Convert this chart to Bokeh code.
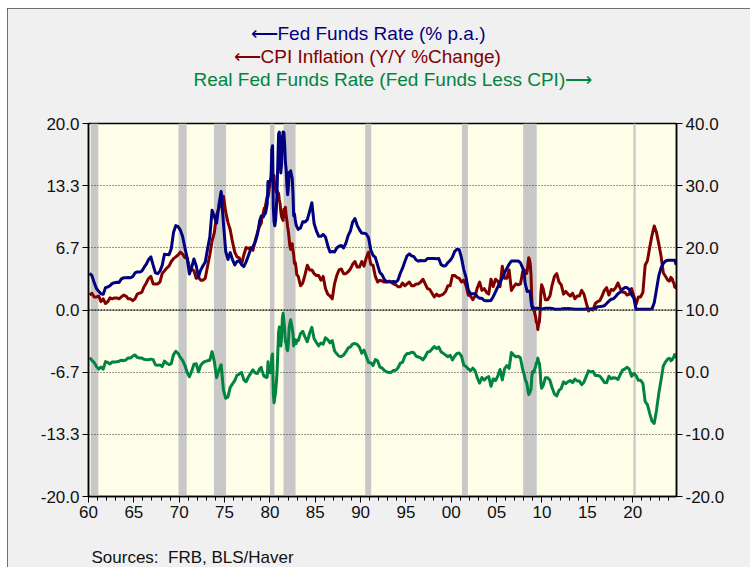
from bokeh.plotting import figure
from bokeh.models import (Range1d, LinearAxis, FixedTicker, PrintfTickFormatter,
                          CustomJSTickFormatter, BoxAnnotation, Span, Title)
from bokeh.embed import file_html
from bokeh.resources import INLINE

# ---------------- data ----------------
# Fed funds rate, % p.a.
ff_q_1960_1978 = [3.93, 3.70, 2.94, 2.30, 2.00, 1.73, 1.68, 2.40, 2.46, 2.61, 2.85, 2.92,
                  2.97, 2.96, 3.33, 3.45, 3.46, 3.49, 3.46, 3.58, 3.97, 4.08, 4.07, 4.17,
                  4.56, 4.91, 5.41, 5.70, 4.82, 3.99, 3.89, 4.17, 4.79, 5.98, 5.94, 5.92,
                  6.57, 8.33, 9.05, 8.94, 8.57, 7.88, 6.70, 5.57, 3.86, 4.56, 5.47, 4.75,
                  3.54, 4.30, 4.74, 5.14, 6.54, 7.82, 10.70, 10.00, 9.32, 11.25, 12.70, 9.35,
                  6.30, 5.42, 6.16, 5.41, 4.83, 5.20, 5.28, 4.87, 4.66, 5.16, 5.82, 6.51,
                  6.76, 7.28, 8.10, 9.58]
ff_m_1979_1982 = [10.07, 10.06, 10.09, 10.01, 10.24, 10.29, 10.47, 10.94, 11.43, 13.77, 13.18, 13.78,
                  13.82, 14.13, 17.19, 17.61, 10.98, 9.47, 9.03, 9.61, 10.87, 12.81, 15.85, 18.90,
                  19.08, 15.93, 14.70, 15.72, 18.52, 19.10, 19.04, 17.82, 15.87, 15.08, 13.31, 12.37,
                  13.22, 14.78, 14.68, 14.94, 14.45, 14.15, 12.59, 10.12, 10.31, 9.71, 9.20, 8.95]
ff_q_1983_2007 = [8.65, 8.80, 9.46, 9.43, 9.69, 10.56, 11.50, 9.27, 8.48, 7.92, 7.90, 8.10,
                  7.83, 6.92, 6.21, 6.27, 6.22, 6.65, 6.84, 6.92, 6.66, 7.16, 7.98, 8.47,
                  9.44, 9.80, 9.08, 8.61, 8.25, 8.24, 8.16, 7.74, 6.43, 5.86, 5.64, 4.82,
                  4.02, 3.77, 3.26, 3.04, 3.04, 3.00, 3.06, 2.99, 3.21, 3.94, 4.49, 5.17,
                  5.81, 6.02, 5.80, 5.72, 5.36, 5.24, 5.31, 5.28, 5.28, 5.52, 5.53, 5.51,
                  5.52, 5.50, 5.53, 4.86, 4.73, 4.75, 5.09, 5.31, 5.68, 6.27, 6.52, 6.47,
                  5.59, 4.33, 3.50, 2.13, 1.73, 1.75, 1.74, 1.44, 1.25, 1.25, 1.02, 1.00,
                  1.00, 1.03, 1.43, 1.95, 2.47, 2.94, 3.46, 3.98, 4.46, 4.91, 5.25, 5.25,
                  5.26, 5.25, 5.07, 4.50]
ff_m_2008_2009 = [3.94, 2.98, 2.61, 2.28, 1.98, 2.00, 2.01, 2.00, 1.81, 0.97, 0.39, 0.16,
                  0.15, 0.22, 0.18, 0.15, 0.18, 0.21, 0.16, 0.16, 0.15, 0.12, 0.12, 0.12]
ff_q_2010_2023 = [0.13, 0.19, 0.19, 0.19, 0.16, 0.09, 0.08, 0.07, 0.10, 0.15, 0.14, 0.16,
                  0.14, 0.12, 0.08, 0.09, 0.07, 0.09, 0.09, 0.10, 0.11, 0.12, 0.13, 0.16,
                  0.36, 0.37, 0.40, 0.45, 0.70, 0.95, 1.15, 1.20, 1.45, 1.74, 1.92, 2.22,
                  2.40, 2.40, 2.19, 1.64, 1.26, 0.06, 0.09, 0.09, 0.08, 0.07, 0.09, 0.08,
                  0.12, 0.77, 2.19, 3.65, 4.52, 4.99, 5.26, 5.33]
ff_m_2024 = [5.33, 5.33, 5.33, 5.33, 5.33, 5.33, 5.33, 5.33, 5.13, 4.83]

# CPI inflation, Y/Y % change
cpi_q_1960_1978 = [1.6, 1.8, 1.4, 1.4, 1.5, 0.9, 1.2, 0.7, 0.9, 1.3, 1.2, 1.3,
                   1.3, 1.2, 1.4, 1.6, 1.5, 1.2, 1.2, 1.0, 1.2, 1.7, 1.8, 1.9,
                   2.5, 2.9, 3.4, 3.6, 2.8, 2.8, 2.8, 3.0, 3.9, 4.2, 4.5, 4.7,
                   5.2, 5.5, 5.7, 5.9, 6.2, 6.0, 5.6, 5.6, 4.6, 4.4, 4.2, 3.4,
                   3.5, 3.2, 3.2, 3.4, 4.7, 5.9, 7.4, 8.3, 10.2, 10.9, 11.5, 12.2,
                   10.5, 9.4, 8.6, 7.3, 6.2, 5.7, 5.6, 4.9, 5.9, 6.7, 6.6, 6.7,
                   6.4, 7.4, 8.3, 9.0]
cpi_m_1979_1982 = [9.3, 9.9, 10.1, 10.5, 10.9, 10.9, 11.3, 11.8, 12.2, 12.1, 12.6, 13.3,
                   13.9, 14.2, 14.8, 14.7, 14.4, 14.4, 13.1, 12.9, 12.6, 12.8, 12.6, 12.5,
                   11.8, 11.4, 10.5, 10.0, 9.8, 9.6, 10.8, 10.8, 11.0, 10.1, 9.6, 8.9,
                   8.4, 7.6, 6.8, 6.5, 6.7, 7.1, 6.4, 5.9, 5.0, 5.1, 4.6, 3.8]
cpi_q_1983_2007 = [3.6, 2.6, 2.9, 3.8, 4.8, 4.3, 4.3, 3.9, 3.7, 3.7, 3.2, 3.6,
                   2.3, 1.7, 1.5, 1.2, 2.8, 3.7, 4.3, 4.4, 3.9, 3.9, 4.1, 4.4,
                   4.9, 5.2, 4.6, 4.6, 5.2, 4.7, 5.6, 6.2, 4.9, 4.8, 3.6, 3.0,
                   3.2, 3.1, 3.0, 3.0, 3.1, 3.0, 2.8, 2.7, 2.5, 2.5, 2.9, 2.6,
                   2.8, 3.0, 2.6, 2.6, 2.8, 2.8, 3.0, 3.3, 2.8, 2.3, 2.2, 1.8,
                   1.4, 1.7, 1.5, 1.6, 1.7, 2.0, 2.6, 2.6, 3.7, 3.7, 3.5, 3.4,
                   3.0, 3.2, 2.6, 1.6, 1.5, 1.1, 1.5, 2.4, 3.0, 2.1, 2.3, 1.9,
                   1.7, 3.3, 2.5, 3.3, 3.1, 2.5, 4.7, 3.4, 3.4, 4.3, 2.1, 2.5,
                   2.8, 2.7, 2.8, 4.1]
cpi_m_2008_2009 = [4.3, 4.0, 4.0, 3.9, 4.2, 5.0, 5.6, 5.4, 4.9, 3.7, 1.1, 0.1,
                   0.0, 0.2, -0.4, -0.7, -1.3, -1.4, -2.1, -1.5, -1.3, -0.2, 1.8, 2.7]
cpi_q_2010_2023 = [2.3, 1.1, 1.1, 1.5, 2.7, 3.6, 3.9, 3.0, 2.7, 1.7, 2.0, 1.7,
                   1.5, 1.8, 1.2, 1.5, 1.5, 2.1, 1.7, 0.8, -0.1, 0.1, 0.0, 0.7,
                   0.9, 1.0, 1.5, 2.1, 2.4, 1.6, 2.2, 2.1, 2.4, 2.9, 2.3, 1.9,
                   1.9, 1.6, 1.7, 2.3, 1.5, 0.6, 1.4, 1.4, 1.9, 4.8, 5.3, 6.7,
                   8.0, 9.0, 8.3, 7.1, 5.8, 4.0, 3.6, 3.2]
cpi_m_2024 = [3.1, 3.2, 3.5, 3.4, 3.3, 3.0, 2.9, 2.5, 2.4, 2.6]

# NBER recessions (start, end) in decimal years
rec_start = [1960.25, 1969.92, 1973.83, 1980.0, 1981.5, 1990.5, 2001.17, 2007.92, 2020.08]
rec_end = [1961.08, 1970.83, 1975.17, 1980.5, 1982.83, 1991.17, 2001.83, 2009.42, 2020.33]

x_ticks = [1960, 1965, 1970, 1975, 1980, 1985, 1990, 1995, 2000, 2005, 2010, 2015, 2020]
left_ticks = [-20, -40 / 3, -20 / 3, 0, 20 / 3, 40 / 3, 20]
right_ticks = [-20, -10, 0, 10, 20, 30, 40]

legend_texts = ["\u27f5Fed Funds Rate (% p.a.)", "\u27f5CPI Inflation (Y/Y %Change)",
                "Real Fed Funds Rate (Fed Funds Less CPI)\u27f6"]
source_text = "Sources:\u00a0 FRB, BLS/Haver"


def q_dates(y0, y1):
    return [y + (q + 0.5) / 4 for y in range(y0, y1 + 1) for q in range(4)]


def m_dates(y0, y1, months=12):
    return [y + (m + 0.5) / 12 for y in range(y0, y1 + 1) for m in range(months)]


dates = (q_dates(1960, 1978) + m_dates(1979, 1982) + q_dates(1983, 2007)
         + m_dates(2008, 2009) + q_dates(2010, 2023) + m_dates(2024, 2024, 10))
ff = ff_q_1960_1978 + ff_m_1979_1982 + ff_q_1983_2007 + ff_m_2008_2009 + ff_q_2010_2023 + ff_m_2024
cpi = cpi_q_1960_1978 + cpi_m_1979_1982 + cpi_q_1983_2007 + cpi_m_2008_2009 + cpi_q_2010_2023 + cpi_m_2024
real = [f - c for f, c in zip(ff, cpi)]

BLUE = "#000080"
RED = "#800000"
GREEN = "#00843f"
FONT = "Liberation Sans"
BG = "#f0f0f0"

p = figure(width=743, height=559, x_range=Range1d(1960, 2024.83), y_range=Range1d(-20, 20),
           output_backend="svg", toolbar_location=None, title=None,
           min_border_left=81, min_border_right=74, min_border_top=115, min_border_bottom=71,
           background_fill_color="#fffee8", border_fill_color=BG,
           outline_line_color="black", outline_line_width=1.5,
           styles={"margin": "8px 0 0 7px", "outline": "1px solid #444",
                   "outline-offset": "-1px"})
p.extra_y_ranges = {"right": Range1d(-20, 40)}

for s, e in zip(rec_start, rec_end):
    p.add_layout(BoxAnnotation(left=s, right=e, fill_color="#c8c8c8", fill_alpha=1.0,
                               line_color=None, level="image"))

p.xgrid.grid_line_color = None
p.ygrid.ticker = FixedTicker(ticks=left_ticks)
p.ygrid.grid_line_color = "#333333"
p.ygrid.grid_line_dash = "1 2"
p.ygrid.grid_line_width = 1
p.add_layout(Span(location=0, dimension="width", line_color="#333333", line_dash="2 1",
                  line_width=1.6))

p.line(dates, cpi, color=RED, line_width=3, line_join="round")
p.line(dates, ff, color=BLUE, line_width=3, line_join="round")
p.line(dates, real, color=GREEN, line_width=3, line_join="round", y_range_name="right")

xa = p.xaxis[0]
xa.ticker = FixedTicker(ticks=x_ticks, minor_ticks=list(range(1960, 2025)))
xa.formatter = CustomJSTickFormatter(code="return String(tick % 100).padStart(2, '0');")
ya = p.yaxis[0]
ya.ticker = FixedTicker(ticks=left_ticks)
ya.formatter = PrintfTickFormatter(format="%.1f")
ra = LinearAxis(y_range_name="right", ticker=FixedTicker(ticks=right_ticks),
                formatter=PrintfTickFormatter(format="%.1f"))
p.add_layout(ra, "right")

for ax in (xa, ya, ra):
    ax.axis_line_color = "black"
    ax.axis_line_width = 1.5
    ax.major_tick_line_color = "black"
    ax.major_tick_in = 0
    ax.major_tick_out = 6
    ax.minor_tick_in = 0
    ax.major_label_text_font = FONT
    ax.major_label_text_font_size = "17px"
    ax.major_label_text_color = "#111111"
    ax.major_label_standoff = 3
xa.minor_tick_out = 4
xa.minor_tick_line_color = "black"
ya.minor_tick_line_color = None
ra.minor_tick_line_color = None


def spacer(gap):
    # an empty, tiny title used only to open a gap in a side panel
    return Title(text=" ", text_font_size="1px", standoff=gap, text_color=BG)


# header lines as titles (first added sits nearest the frame; offsets from frame left)
p.add_layout(spacer(31), "above")
for text, color, offset in [(legend_texts[2], GREEN, 105),
                            (legend_texts[1], RED, 145),
                            (legend_texts[0], BLUE, 162)]:
    p.add_layout(Title(text=text, align="left", offset=offset, standoff=0,
                       text_color=color, text_font=FONT, text_font_size="19px",
                       text_font_style="normal"), "above")

p.add_layout(spacer(22), "below")
p.add_layout(Title(text=source_text, align="left", offset=3, standoff=0,
                   text_color="#111111", text_font=FONT, text_font_size="17px",
                   text_font_style="normal"), "below")

open("out.html", "w").write(file_html(p, INLINE))
